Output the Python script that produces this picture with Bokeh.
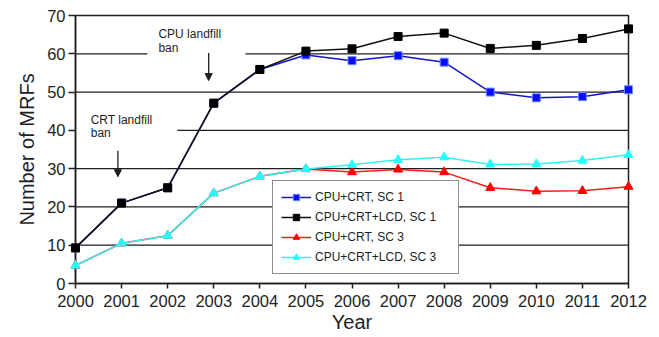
from bokeh.plotting import figure
from bokeh.models import (Legend, LegendItem, Arrow, NormalHead, Label,
                          FixedTicker, ColumnDataSource)
from bokeh.embed import file_html
from bokeh.resources import INLINE

# ---- data ----
years = [2000, 2001, 2002, 2003, 2004, 2005, 2006, 2007, 2008, 2009, 2010, 2011, 2012]
cpu_crt_sc1 = [9.3, 21.0, 25.0, 47.1, 55.9, 59.7, 58.2, 59.5, 57.8, 50.0, 48.5, 48.8, 50.6]
cpu_crt_lcd_sc1 = [9.3, 21.0, 25.0, 47.1, 55.9, 60.7, 61.3, 64.5, 65.4, 61.4, 62.2, 64.0, 66.5]
cpu_crt_sc3 = [4.7, 10.5, 12.5, 23.6, 28.0, 29.9, 29.1, 29.8, 29.1, 25.0, 24.1, 24.2, 25.3]
cpu_crt_lcd_sc3 = [4.7, 10.5, 12.5, 23.6, 28.0, 29.9, 31.0, 32.3, 33.0, 31.1, 31.2, 32.1, 33.6]
series_names = ["CPU+CRT, SC 1", "CPU+CRT+LCD, SC 1", "CPU+CRT, SC 3", "CPU+CRT+LCD, SC 3"]
y_ticks = [0, 10, 20, 30, 40, 50, 60, 70]
x_tick_labels = [str(y) for y in years]

FONT = "Liberation Sans"
INK = "#1e1e1e"

p = figure(width=659, height=337, x_range=(2000, 2012), y_range=(0, 70),
           output_backend="svg", toolbar_location=None,
           min_border_left=75, min_border_right=31, min_border_top=15,
           min_border_bottom=54)
p.background_fill_color = "white"
p.border_fill_color = "white"
p.outline_line_color = INK
p.outline_line_width = 1.5
p.grid.visible = False

# axes
p.xaxis.ticker = FixedTicker(ticks=years)
p.xaxis.major_label_overrides = {y: s for y, s in zip(years, x_tick_labels)}
p.yaxis.ticker = FixedTicker(ticks=y_ticks)
for ax in (p.xaxis[0], p.yaxis[0]):
    ax.axis_line_color = INK
    ax.axis_line_width = 1.5
    ax.major_tick_line_color = INK
    ax.major_tick_line_width = 1.5
    ax.major_tick_in = 0
    ax.minor_tick_line_color = None
    ax.major_label_text_font = FONT
    ax.major_label_text_font_size = "16.5px"
    ax.major_label_text_color = INK
    ax.axis_label_text_font = FONT
    ax.axis_label_text_font_size = "20px"
    ax.axis_label_text_font_style = "normal"
    ax.axis_label_text_color = INK
p.xaxis.major_tick_out = 5
p.xaxis.major_label_standoff = 6
p.xaxis.axis_label = "Year"
p.xaxis.axis_label_standoff = 1
p.yaxis.major_tick_out = 7
p.yaxis.major_label_standoff = 3
p.yaxis.axis_label = "Number of MRFs"
p.yaxis.axis_label_standoff = 6

# horizontal gridlines (some interrupted by the annotations)
grid_y = [10, 20, 30, 40, 50, 60, 60]
grid_x0 = [2000, 2000, 2000, 2002.21, 2000, 2000, 2003.69]
grid_x1 = [2012, 2012, 2012, 2012, 2012, 2001.56, 2012]
p.segment(x0=grid_x0, y0=grid_y, x1=grid_x1, y1=grid_y, line_color=INK, line_width=1.3)

# series
styles = [
    ("#1414c8", "#0a0aff", "#6a8cff", "square", 8),
    ("#111111", "black", "black", "square", 8),
    ("#ff1a1a", "#ff0000", "#ff0000", "triangle", 9),
    ("#33f0f0", "#22ffff", "#22ffff", "triangle", 9),
]
values = [cpu_crt_sc1, cpu_crt_lcd_sc1, cpu_crt_sc3, cpu_crt_lcd_sc3]
items = []
for name, vals, (lc, fc, mc, mk, sz) in zip(series_names, values, styles):
    src = ColumnDataSource(dict(x=years, y=vals))
    l = p.line("x", "y", source=src, line_color=lc, line_width=1.5, level="overlay")
    s = p.scatter("x", "y", source=src, marker=mk, size=sz, fill_color=fc,
                  line_color=mc, line_width=1, level="overlay")
    items.append(LegendItem(label=name, renderers=[l, s]))

legend = Legend(items=items, location=(197, 9), padding=8, spacing=4,
                glyph_width=30, glyph_height=16, label_height=16, label_width=135,
                label_standoff=4, label_text_font=FONT, label_text_font_size="12px",
                label_text_color=INK, border_line_color=INK, border_line_width=1.5,
                background_fill_color="white", background_fill_alpha=1.0, margin=0)
p.add_layout(legend)

# annotations
for txt, x, y in [("CPU landfill", 2001.80, 65.1), ("ban", 2001.80, 61.5),
                  ("CRT landfill", 2000.33, 42.8), ("ban", 2000.33, 39.3)]:
    p.add_layout(Label(x=x, y=y, text=txt, text_font=FONT, text_font_size="12px",
                       text_color=INK, text_baseline="alphabetic", text_align="left"))

for x, y0, y1 in [(2002.89, 60.2, 53.0), (2000.92, 34.7, 27.9)]:
    p.add_layout(Arrow(x_start=x, y_start=y0, x_end=x, y_end=y1, line_color=INK,
                       line_width=1.3,
                       end=NormalHead(size=7, fill_color=INK, line_color=INK, line_width=1)))

open("out.html", "w").write(file_html(p, INLINE))
